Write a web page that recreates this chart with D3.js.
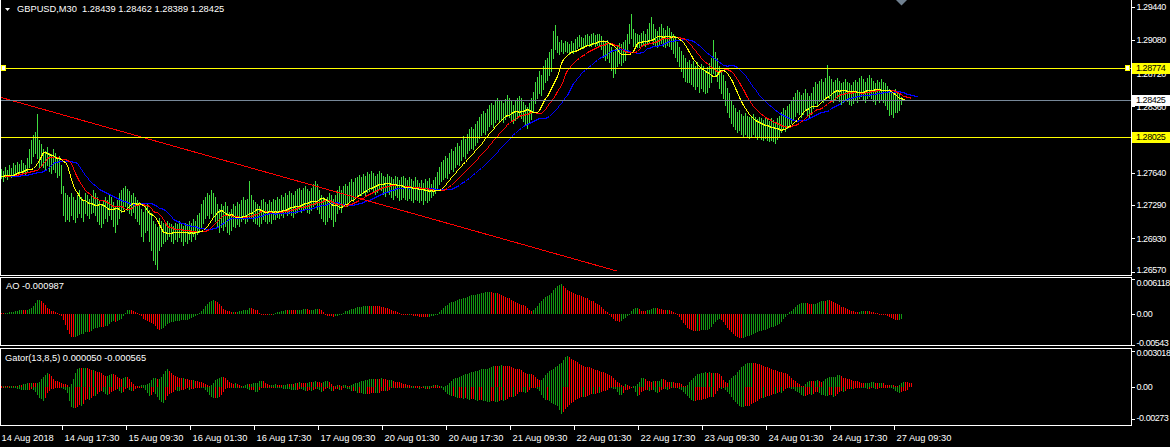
<!DOCTYPE html>
<html><head><meta charset="utf-8">
<script src="https://cdn.jsdelivr.net/npm/d3@7/dist/d3.min.js"></script>
<style>
html,body{margin:0;padding:0;background:#000;overflow:hidden;}
svg{display:block;}
text{font-family:"Liberation Sans",Arial,sans-serif;}
</style></head><body>
<svg id="chart" width="1170" height="447"></svg>
<script>
// ---------------- DATA ----------------
const symbolLabel = "GBPUSD,M30";
const quoteOHLC = [1.28439, 1.28462, 1.28389, 1.28425];
const highs = [
1.2768,1.2766,1.2770,1.2767,1.2772,1.2769,1.2775,1.2772,1.2776,1.2774,
1.2778,1.2775,1.2773,1.2780,1.2790,1.2800,1.2805,1.2808,1.2828,1.2800,
1.2795,1.2790,1.2788,1.2792,1.2786,1.2784,1.2790,1.2785,1.2780,1.2782,
1.2772,1.2750,1.2742,1.2740,1.2738,1.2742,1.2738,1.2735,1.2740,1.2745,
1.2738,1.2735,1.2742,1.2740,1.2736,1.2740,1.2745,1.2742,1.2738,1.2735,
1.2730,1.2734,1.2738,1.2735,1.2740,1.2738,1.2732,1.2728,1.2735,1.2742,
1.2745,1.2748,1.2750,1.2746,1.2744,1.2740,1.2742,1.2738,1.2735,1.2732,
1.2725,1.2722,1.2728,1.2730,1.2724,1.2720,1.2712,1.2708,1.2705,1.2715,
1.2712,1.2710,1.2708,1.2712,1.2710,1.2708,1.2706,1.2710,1.2708,1.2712,
1.2708,1.2706,1.2710,1.2708,1.2712,1.2710,1.2714,1.2712,1.2718,1.2720,
1.2730,1.2735,1.2738,1.2742,1.2740,1.2745,1.2742,1.2738,1.2730,1.2725,
1.2730,1.2728,1.2732,1.2728,1.2722,1.2725,1.2730,1.2728,1.2732,1.2730,
1.2735,1.2738,1.2734,1.2736,1.2755,1.2740,1.2735,1.2732,1.2730,1.2728,
1.2734,1.2736,1.2732,1.2730,1.2734,1.2732,1.2736,1.2735,1.2738,1.2736,
1.2740,1.2738,1.2742,1.2740,1.2744,1.2742,1.2740,1.2744,1.2746,1.2748,
1.2745,1.2748,1.2750,1.2746,1.2744,1.2748,1.2752,1.2755,1.2752,1.2745,
1.2740,1.2738,1.2735,1.2738,1.2742,1.2740,1.2736,1.2740,1.2745,1.2750,
1.2745,1.2750,1.2752,1.2750,1.2754,1.2757,1.2754,1.2758,1.2760,1.2762,
1.2760,1.2763,1.2761,1.2765,1.2763,1.2766,1.2764,1.2761,1.2763,1.2766,
1.2764,1.2761,1.2759,1.2763,1.2761,1.2759,1.2757,1.2761,1.2759,1.2756,
1.2759,1.2761,1.2758,1.2756,1.2759,1.2757,1.2755,1.2759,1.2756,1.2753,
1.2756,1.2753,1.2757,1.2755,1.2758,1.2752,1.2756,1.2760,1.2765,1.2770,
1.2776,1.2778,1.2782,1.2780,1.2786,1.2790,1.2788,1.2792,1.2796,1.2793,
1.2800,1.2804,1.2801,1.2806,1.2811,1.2814,1.2812,1.2817,1.2820,1.2824,
1.2828,1.2831,1.2829,1.2833,1.2837,1.2840,1.2838,1.2842,1.2845,1.2842,
1.2843,1.2840,1.2844,1.2848,1.2845,1.2842,1.2838,1.2842,1.2845,1.2847,
1.2845,1.2841,1.2837,1.2835,1.2840,1.2845,1.2852,1.2862,1.2868,1.2874,
1.2870,1.2880,1.2886,1.2888,1.2895,1.2898,1.2918,1.2924,1.2912,1.2906,
1.2908,1.2905,1.2907,1.2906,1.2904,1.2907,1.2905,1.2909,1.2911,1.2913,
1.2911,1.2910,1.2913,1.2915,1.2912,1.2914,1.2916,1.2913,1.2915,1.2914,
1.2912,1.2908,1.2906,1.2908,1.2904,1.2900,1.2895,1.2898,1.2902,1.2905,
1.2904,1.2906,1.2908,1.2915,1.2925,1.2936,1.2920,1.2916,1.2915,1.2913,
1.2916,1.2918,1.2915,1.2920,1.2926,1.2933,1.2925,1.2920,1.2918,1.2922,
1.2925,1.2921,1.2919,1.2923,1.2921,1.2917,1.2914,1.2912,1.2906,1.2900,
1.2896,1.2892,1.2888,1.2884,1.2886,1.2882,1.2885,1.2880,1.2884,1.2878,
1.2882,1.2880,1.2876,1.2879,1.2883,1.2888,1.2908,1.2895,1.2888,1.2880,
1.2876,1.2870,1.2864,1.2856,1.2850,1.2843,1.2838,1.2834,1.2830,1.2832,
1.2828,1.2826,1.2829,1.2826,1.2824,1.2826,1.2828,1.2825,1.2822,1.2825,
1.2823,1.2821,1.2824,1.2822,1.2820,1.2823,1.2821,1.2819,1.2823,1.2826,
1.2830,1.2834,1.2832,1.2836,1.2839,1.2842,1.2846,1.2850,1.2854,1.2852,
1.2848,1.2851,1.2855,1.2851,1.2847,1.2851,1.2857,1.2862,1.2860,1.2864,
1.2866,1.2863,1.2867,1.2881,1.2869,1.2866,1.2863,1.2865,1.2867,1.2864,
1.2861,1.2863,1.2866,1.2863,1.2861,1.2859,1.2862,1.2865,1.2863,1.2867,
1.2869,1.2866,1.2863,1.2867,1.2870,1.2867,1.2864,1.2861,1.2865,1.2863,
1.2866,1.2863,1.2861,1.2858,1.2855,1.2852,1.2850,1.2855,1.2852,1.2850,
1.2846];
const lows = [
1.2758,1.2755,1.2760,1.2757,1.2762,1.2760,1.2763,1.2762,1.2765,1.2764,
1.2766,1.2764,1.2763,1.2766,1.2770,1.2775,1.2782,1.2785,1.2780,1.2770,
1.2773,1.2770,1.2768,1.2772,1.2766,1.2764,1.2768,1.2765,1.2760,1.2762,
1.2742,1.2718,1.2712,1.2714,1.2712,1.2718,1.2714,1.2711,1.2716,1.2720,
1.2716,1.2712,1.2720,1.2718,1.2715,1.2720,1.2722,1.2718,1.2712,1.2708,
1.2705,1.2710,1.2715,1.2712,1.2718,1.2714,1.2706,1.2700,1.2708,1.2715,
1.2722,1.2725,1.2728,1.2724,1.2720,1.2718,1.2722,1.2715,1.2712,1.2708,
1.2695,1.2690,1.2700,1.2702,1.2690,1.2680,1.2670,1.2665,1.2660,1.2680,
1.2685,1.2688,1.2690,1.2692,1.2695,1.2690,1.2688,1.2692,1.2690,1.2694,
1.2690,1.2686,1.2690,1.2688,1.2692,1.2690,1.2695,1.2692,1.2698,1.2700,
1.2705,1.2710,1.2715,1.2718,1.2715,1.2720,1.2716,1.2712,1.2705,1.2700,
1.2705,1.2702,1.2706,1.2700,1.2698,1.2702,1.2706,1.2705,1.2708,1.2706,
1.2712,1.2714,1.2710,1.2712,1.2715,1.2715,1.2712,1.2710,1.2708,1.2706,
1.2710,1.2714,1.2712,1.2710,1.2712,1.2710,1.2714,1.2714,1.2716,1.2715,
1.2718,1.2716,1.2720,1.2718,1.2720,1.2718,1.2716,1.2720,1.2722,1.2725,
1.2722,1.2724,1.2726,1.2722,1.2720,1.2724,1.2728,1.2730,1.2725,1.2720,
1.2715,1.2712,1.2708,1.2712,1.2716,1.2714,1.2706,1.2712,1.2720,1.2725,
1.2722,1.2728,1.2730,1.2728,1.2732,1.2736,1.2733,1.2737,1.2740,1.2741,
1.2740,1.2742,1.2740,1.2743,1.2744,1.2746,1.2744,1.2741,1.2743,1.2746,
1.2745,1.2741,1.2739,1.2743,1.2741,1.2738,1.2736,1.2740,1.2738,1.2734,
1.2736,1.2738,1.2736,1.2734,1.2737,1.2734,1.2732,1.2736,1.2734,1.2732,
1.2734,1.2730,1.2734,1.2732,1.2735,1.2738,1.2740,1.2742,1.2746,1.2752,
1.2755,1.2757,1.2760,1.2758,1.2764,1.2768,1.2766,1.2770,1.2774,1.2772,
1.2778,1.2782,1.2780,1.2785,1.2789,1.2791,1.2790,1.2794,1.2797,1.2802,
1.2805,1.2808,1.2806,1.2810,1.2815,1.2817,1.2814,1.2819,1.2822,1.2820,
1.2821,1.2819,1.2822,1.2826,1.2824,1.2821,1.2818,1.2821,1.2823,1.2826,
1.2823,1.2820,1.2816,1.2813,1.2818,1.2822,1.2830,1.2840,1.2845,1.2850,
1.2848,1.2855,1.2862,1.2865,1.2870,1.2874,1.2888,1.2898,1.2895,1.2893,
1.2896,1.2894,1.2896,1.2895,1.2893,1.2896,1.2894,1.2897,1.2899,1.2901,
1.2900,1.2899,1.2901,1.2903,1.2901,1.2902,1.2904,1.2901,1.2903,1.2902,
1.2898,1.2890,1.2886,1.2888,1.2884,1.2875,1.2868,1.2872,1.2880,1.2883,
1.2881,1.2884,1.2886,1.2895,1.2905,1.2910,1.2902,1.2900,1.2900,1.2900,
1.2902,1.2903,1.2901,1.2904,1.2906,1.2908,1.2904,1.2902,1.2900,1.2903,
1.2905,1.2902,1.2900,1.2903,1.2901,1.2898,1.2894,1.2890,1.2885,1.2880,
1.2874,1.2868,1.2864,1.2862,1.2863,1.2860,1.2858,1.2855,1.2858,1.2852,
1.2856,1.2853,1.2850,1.2852,1.2857,1.2862,1.2872,1.2870,1.2864,1.2856,
1.2850,1.2845,1.2838,1.2830,1.2825,1.2818,1.2815,1.2812,1.2808,1.2810,
1.2806,1.2804,1.2806,1.2803,1.2802,1.2804,1.2806,1.2803,1.2801,1.2803,
1.2801,1.2800,1.2802,1.2800,1.2798,1.2800,1.2798,1.2796,1.2801,1.2804,
1.2808,1.2811,1.2809,1.2813,1.2815,1.2818,1.2822,1.2826,1.2830,1.2828,
1.2825,1.2828,1.2832,1.2827,1.2823,1.2828,1.2834,1.2840,1.2838,1.2842,
1.2843,1.2841,1.2844,1.2846,1.2845,1.2843,1.2841,1.2843,1.2845,1.2842,
1.2839,1.2841,1.2844,1.2842,1.2839,1.2837,1.2840,1.2843,1.2841,1.2845,
1.2847,1.2844,1.2841,1.2845,1.2847,1.2845,1.2842,1.2839,1.2843,1.2841,
1.2843,1.2841,1.2837,1.2833,1.2827,1.2828,1.2825,1.2830,1.2830,1.2832,
1.2839];
// estimated median prices of the bars just before the visible window (indicator warm-up)
const priorMedians = [1.2762,1.2760,1.2758,1.2761,1.2763,1.2760,1.2757,1.2759,1.2762,1.2764,
1.2761,1.2759,1.2756,1.2758,1.2761,1.2763,1.2760,1.2758,1.2760,1.2762,1.2759,1.2757,1.2759,
1.2761,1.2764,1.2762,1.2760,1.2758,1.2761,1.2763,1.2762,1.2760,1.2761,1.2763];
const priceTicks = [1.29440,1.29080,1.28720,1.28360,1.28000,1.27640,1.27290,1.26930,1.26570];
const levelPrices = [1.28774, 1.28025];
const bidPrice = 1.28425;
const trendBars = [0, 308];
const trendPrices = [1.2846, 1.26575];
const aoTicks = [0.006118, 0, -0.00543];
const aoTickLabels = ["0.006118", "0.00", "-0.00543"];
const aoLast = "-0.000987";
const gatorTicks = [0.003018, 0, -0.00273];
const gatorTickLabels = ["0.003018", "0.00", "-0.00273"];
const gatorLast = ["0.000050", "-0.000565"];
const timeLabels = ["14 Aug 2018","14 Aug 17:30","15 Aug 09:30","16 Aug 01:30","16 Aug 17:30",
"17 Aug 09:30","20 Aug 01:30","20 Aug 17:30","21 Aug 09:30","22 Aug 01:30","22 Aug 17:30",
"23 Aug 09:30","24 Aug 01:30","24 Aug 17:30","27 Aug 09:30"];
const timeLabelBars = [0,30,62,94,126,158,190,222,254,286,318,350,382,414,446];

// ---------------- CHART ----------------
const svg = d3.select("#chart");
svg.append("rect").attr("width",1170).attr("height",447).attr("fill","#000");
const N = highs.length, P = priorMedians.length;
const RX = 1131;
const FONT = "9.3px";
const AXFONT = "9px";
const x = d3.scaleLinear().domain([0, N-1]).range([1, 1 + 2*(N-1)]);
const yMain = d3.scaleLinear().domain([1.26570, 1.29440]).range([271.5, 6.8]);
const yAO = d3.scaleLinear().domain([-0.00543, 0.006118]).range([345, 279]);
const yG = d3.scaleLinear().domain([-0.00273, 0.003018]).range([419, 351]);

// indicators (Alligator 13/8/5 shifted 8/5/3, AO, Gator) from median price
const med = priorMedians.concat(highs.map((h,i)=>(h+lows[i])/2));
function smma(src,n){const out=new Array(src.length).fill(null);let s=0;
  for(let i=0;i<src.length;i++){ if(i<n){s+=src[i]; if(i===n-1) out[i]=s/n; continue;}
    out[i]=(out[i-1]*(n-1)+src[i])/n;} return out;}
function sma(src,n,i){let s=0,c=0;for(let k=Math.max(0,i-n+1);k<=i;k++){s+=src[k];c++;}return s/c;}
const jawS=smma(med,13), teethS=smma(med,8), lipsS=smma(med,5);
const sh=(arr,shift,j)=>{const k=j+P-shift;return (k>=0&&k<arr.length)?arr[k]:null;};

const defs = svg.append("defs");
defs.append("clipPath").attr("id","cm").append("rect").attr("x",1).attr("y",0).attr("width",RX-1).attr("height",275);
defs.append("clipPath").attr("id","ca").append("rect").attr("x",1).attr("y",278).attr("width",RX-1).attr("height",67);
defs.append("clipPath").attr("id","cg").append("rect").attr("x",1).attr("y",349).attr("width",RX-1).attr("height",76);

const main = svg.append("g").attr("clip-path","url(#cm)");
// bars
main.append("g").selectAll("rect").data(d3.range(N)).join("rect")
  .attr("x",i=>Math.round(x(i))).attr("width",1)
  .attr("y",i=>Math.round(yMain(highs[i])))
  .attr("height",i=>Math.max(1,Math.round(yMain(lows[i]))-Math.round(yMain(highs[i]))+1))
  .attr("fill","#3fdc3f").attr("shape-rendering","crispEdges");

// alligator
function alligatorLine(arr,shift,color){
  const js=d3.range(-2,N+shift).filter(j=>sh(arr,shift,j)!==null);
  main.append("path").datum(js).attr("fill","none").attr("stroke",color).attr("stroke-width",1)
    .attr("shape-rendering","crispEdges")
    .attr("d",d3.line().x(j=>Math.round(x(j))+0.5).y(j=>Math.round(yMain(sh(arr,shift,j)))+0.5));
}
alligatorLine(jawS,8,"#0000ff");
alligatorLine(teethS,5,"#ff0000");
alligatorLine(lipsS,3,"#ffff00");

// objects: trend line, level lines, bid line
main.append("line").attr("x1",Math.round(x(trendBars[0]))-1).attr("y1",yMain(trendPrices[0]))
  .attr("x2",x(trendBars[1])).attr("y2",yMain(trendPrices[1]))
  .attr("stroke","#ff0000").attr("stroke-width",1).attr("shape-rendering","crispEdges");
main.append("line").attr("x1",0).attr("x2",RX).attr("y1",Math.round(yMain(bidPrice))+0.5).attr("y2",Math.round(yMain(bidPrice))+0.5)
  .attr("stroke","#778899").attr("stroke-width",1);
levelPrices.forEach(p=>{
  const yy=Math.round(yMain(p))+0.5;
  main.append("line").attr("x1",0).attr("x2",RX).attr("y1",yy).attr("y2",yy).attr("stroke","#ffff00").attr("stroke-width",1);
});
// selected object markers on the first level line
{const yy=Math.round(yMain(levelPrices[0]));
 [1,1125].forEach(mx=>svg.append("rect").attr("x",mx+0.5).attr("y",yy-2.5).attr("width",4).attr("height",5)
   .attr("fill","#ffffff").attr("stroke","#ffff00").attr("stroke-width",1));}

// shift marker triangle (at last bar)
{const sx=Math.round(x(N-1))+0.5;
 svg.append("path").attr("d",`M${sx-5.5},0 L${sx+5.5},0 L${sx},5.5 Z`).attr("fill","#708090");}

// header
svg.append("path").attr("d","M5,8 L10,8 L7.5,11 Z").attr("fill","#fff");
svg.append("text").attr("x",17).attr("y",11.5).attr("fill","#fff").style("font-size",FONT).style("white-space","pre")
  .text(symbolLabel+"  "+quoteOHLC.map(v=>v.toFixed(5)).join(" "));

// frames
const fr = svg.append("g").attr("fill","none").attr("stroke","#fff").attr("stroke-width",1).attr("shape-rendering","crispEdges");
fr.append("path").attr("d",`M0.5,0 V275.5 H${RX+0.5} V0`);
fr.append("rect").attr("x",0.5).attr("y",277.5).attr("width",RX).attr("height",68);
fr.append("rect").attr("x",0.5).attr("y",348.5).attr("width",RX).attr("height",77);

// axes styling
function styleAxis(g,narrow){
  g.select(".domain").remove();
  g.selectAll("line").attr("stroke","#fff").attr("shape-rendering","crispEdges");
  g.selectAll("text").attr("fill","#fff").style("font-size",narrow?AXFONT:FONT)
    .style("letter-spacing",narrow?"-0.45px":"0px")
    .style("font-family","'Liberation Sans',Arial,sans-serif");
}
const pa = svg.append("g").attr("transform",`translate(${RX+0.5},0)`)
  .call(d3.axisRight(yMain).tickValues(priceTicks).tickFormat(d3.format(".5f")).tickSize(3).tickPadding(2));
styleAxis(pa,true);
pa.selectAll(".tick").filter(d=>d===1.26570).select("text").attr("dy","0.1em");

// level and bid boxes on axis
function axisBox(p,bg){
  const yy=Math.round(yMain(p));
  svg.append("rect").attr("x",RX+1).attr("y",yy-5).attr("width",1170-RX-1).attr("height",11).attr("fill",bg);
  svg.append("text").attr("x",RX+5).attr("y",yy).attr("dy","0.35em").attr("fill","#000")
    .style("font-size",AXFONT).style("letter-spacing","-0.45px").text(p.toFixed(5));
}
levelPrices.forEach(p=>axisBox(p,"#ffff00"));
axisBox(bidPrice,"#ffffff");

// AO
const ao = d3.range(N).map(j=>{const k=j+P;return sma(med,5,k)-sma(med,34,k);});
const aoG = svg.append("g").attr("clip-path","url(#ca)");
const z0 = Math.round(yAO(0));
aoG.selectAll("rect").data(d3.range(N)).join("rect")
  .attr("x",j=>Math.round(x(j))).attr("width",1)
  .attr("y",j=>Math.min(z0,Math.round(yAO(ao[j]))))
  .attr("height",j=>Math.max(1,Math.abs(Math.round(yAO(ao[j]))-z0)))
  .attr("fill",j=>(j>0&&ao[j]>ao[j-1])?"#119911":"#ff0000").attr("shape-rendering","crispEdges");
svg.append("text").attr("x",6).attr("y",288.5).attr("fill","#fff").style("font-size",FONT).text("AO "+aoLast);
const aa = svg.append("g").attr("transform",`translate(${RX+0.5},0)`)
  .call(d3.axisRight(yAO).tickValues(aoTicks).tickFormat((d,i)=>aoTickLabels[i]).tickSize(3).tickPadding(2));
styleAxis(aa,true);
aa.selectAll(".tick text").attr("dy",(d,i)=>i===0?"0.75em":(i===2?"0.0em":"0.32em"));

// Gator
const up=[],dn=[];
for(let j=0;j<N+5;j++){
  const jw=sh(jawS,8,j), th=sh(teethS,5,j), lp=sh(lipsS,3,j);
  up.push(jw!==null&&th!==null?Math.abs(jw-th):null);
  dn.push(th!==null&&lp!==null?-Math.abs(th-lp):null);
}
const gG = svg.append("g").attr("clip-path","url(#cg)");
const g0 = Math.round(yG(0));
const uj=d3.range(up.length).filter(j=>up[j]!==null);
gG.append("g").selectAll("rect").data(uj).join("rect")
  .attr("x",j=>Math.round(x(j))).attr("width",1)
  .attr("y",j=>Math.round(yG(up[j]))).attr("height",j=>Math.max(1,g0-Math.round(yG(up[j]))))
  .attr("fill",j=>(j>0&&up[j-1]!==null&&up[j]>up[j-1])?"#119911":"#ff0000").attr("shape-rendering","crispEdges");
const dj=d3.range(dn.length).filter(j=>dn[j]!==null);
gG.append("g").selectAll("rect").data(dj).join("rect")
  .attr("x",j=>Math.round(x(j))).attr("width",1)
  .attr("y",g0).attr("height",j=>Math.max(1,Math.round(yG(dn[j]))-g0))
  .attr("fill",j=>(j>0&&dn[j-1]!==null&&dn[j]<dn[j-1])?"#119911":"#ff0000").attr("shape-rendering","crispEdges");
svg.append("text").attr("x",5).attr("y",361).attr("fill","#fff").style("font-size",FONT)
  .text("Gator(13,8,5) "+gatorLast.join(" "));
const ga = svg.append("g").attr("transform",`translate(${RX+0.5},0)`)
  .call(d3.axisRight(yG).tickValues(gatorTicks).tickFormat((d,i)=>gatorTickLabels[i]).tickSize(3).tickPadding(2));
styleAxis(ga,true);
ga.selectAll(".tick text").attr("dy",(d,i)=>i===0?"0.55em":(i===2?"0.2em":"0.32em"));

// time axis
const ta = svg.append("g").attr("transform","translate(0,425.5)")
  .call(d3.axisBottom(x).tickValues(timeLabelBars).tickFormat((d,i)=>timeLabels[i]).tickSize(4).tickPadding(3));
styleAxis(ta,false);
ta.selectAll(".tick text").attr("text-anchor","start").attr("dx",(d,i)=>i===0?"0":"3").attr("dy","0.9em");
ta.selectAll(".tick").filter((d,i)=>i===0).select("line").remove();
ta.selectAll(".tick line").attr("transform","translate(0.5,0)");
</script>
</body></html>
